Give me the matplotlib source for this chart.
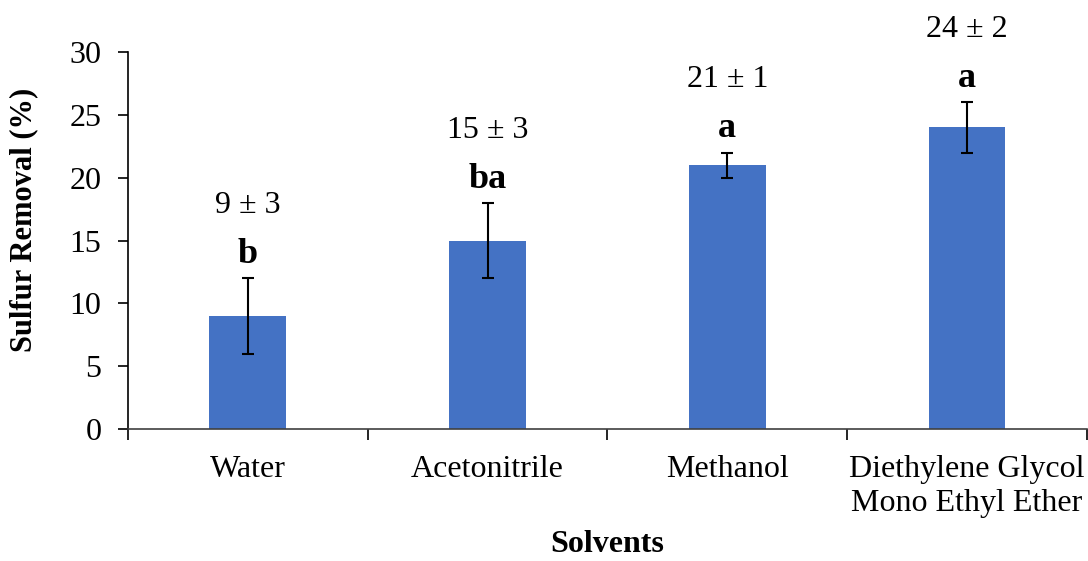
import numpy as np
import matplotlib.pyplot as plt

plt.rcParams['font.family'] = ['Liberation Serif', 'DejaVu Serif']

# datos
solvents = ['Water', 'Acetonitrile', 'Methanol', 'Diethylene Glycol\nMono Ethyl Ether']
removal = [9, 15, 21, 24]
err = [3, 3, 1, 2]
letters = ['b', 'ba', 'a', 'a']

fig = plt.figure(figsize=(10.88, 5.61), dpi=100)
ax = fig.add_axes([0.1176, 0.2353, 0.8814, 0.672])

x = np.arange(len(solvents))
ax.bar(x, removal, width=0.32, color='#4472C4', zorder=2)
ax.errorbar(x, removal, yerr=err, fmt='none', ecolor='black',
            elinewidth=1.5, capsize=4.5, capthick=1.5, zorder=3)

# letras y valor medio +- desvio
for xi, v, e, l in zip(x, removal, err, letters):
    ax.annotate(l, (xi, v + e), xytext=(0, 11), textcoords='offset points',
                ha='center', va='baseline', fontsize=26, fontweight='bold')
    ax.annotate(f'{v} ± {e}', (xi, v + e), xytext=(0, 47), textcoords='offset points',
                ha='center', va='baseline', fontsize=23)

ax.set_xlim(-0.5, len(solvents) - 0.5)
ax.set_ylim(0, 30)
ax.set_yticks(np.arange(0, 31, 5))
ax.tick_params(axis='y', labelsize=23, direction='out', length=7, width=1.2, pad=12)

# ticks del eje x en los bordes de cada categoria
ax.set_xticks(np.arange(-0.5, len(solvents)), minor=False)
ax.set_xticklabels([])
ax.set_xticks(x, minor=True)
ax.set_xticklabels(solvents, minor=True, fontsize=23, linespacing=1.2)
ax.tick_params(axis='x', which='major', direction='out', length=8, width=1.2)
ax.tick_params(axis='x', which='minor', length=0, pad=19)

for s in ['top', 'right']:
    ax.spines[s].set_visible(False)
ax.spines['left'].set_linewidth(1.2)
ax.spines['bottom'].set_linewidth(1.2)
ax.spines['bottom'].set_color('#404040')

ax.set_ylabel('Sulfur Removal (%)', fontsize=22, fontweight='bold')
ax.yaxis.set_label_coords(-0.094, 0.554)
ax.set_xlabel('Solvents', fontsize=23, fontweight='bold', labelpad=9)

fig.savefig('out.png', dpi=100)
